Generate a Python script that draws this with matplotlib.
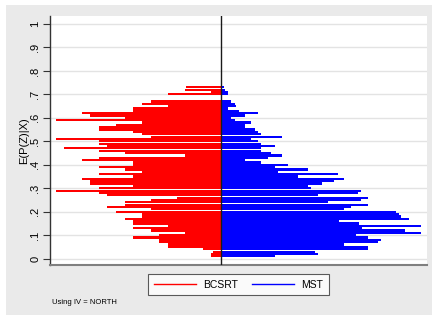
import matplotlib
matplotlib.use("Agg")
import matplotlib.pyplot as plt
from matplotlib.lines import Line2D
from matplotlib.patches import Rectangle

# bin centres of E(P(Z)|X)
bins = [0.01, 0.02, 0.03, 0.04, 0.05, 0.06, 0.07, 0.08, 0.09, 0.10,
        0.11, 0.12, 0.13, 0.14, 0.15, 0.16, 0.17, 0.18, 0.19, 0.20,
        0.21, 0.22, 0.23, 0.24, 0.25, 0.26, 0.27, 0.28, 0.29, 0.30,
        0.31, 0.32, 0.33, 0.34, 0.35, 0.36, 0.37, 0.38, 0.39, 0.40,
        0.41, 0.42, 0.43, 0.44, 0.45, 0.46, 0.47, 0.48, 0.49, 0.50,
        0.51, 0.52, 0.53, 0.54, 0.55, 0.56, 0.57, 0.58, 0.59, 0.60,
        0.61, 0.62, 0.63, 0.64, 0.65, 0.66, 0.67, 0.68, 0.69, 0.70,
        0.71, 0.72, 0.73]

# BCSRT (left, red) frequencies
bcsrt = [10, 10, 8, 18, 53, 53, 62, 62, 88, 62,
         36, 70, 88, 53, 88, 88, 96, 79, 79, 105,
         70, 114, 96, 96, 70, 44, 114, 122, 165, 122,
         88, 131, 131, 139, 88, 122, 79, 96, 122, 88,
         88, 139, 122, 36, 96, 122, 157, 114, 122, 122,
         165, 70, 79, 88, 122, 122, 105, 79, 165, 96,
         131, 139, 88, 88, 53, 79, 70, 0, 0, 53,
         10, 36, 35]

# MST (right, blue) frequencies
mst = [54, 97, 94, 147, 147, 123, 157, 160, 147, 135,
       200, 184, 141, 200, 138, 118, 188, 180, 178, 175,
       123, 130, 147, 107, 140, 147, 97, 137, 140, 90,
       87, 101, 113, 123, 77, 117, 57, 87, 54, 67,
       40, 24, 47, 61, 50, 40, 40, 54, 40, 37,
       30, 61, 40, 37, 34, 24, 24, 30, 14, 10,
       24, 37, 18, 7, 15, 14, 10, 0, 0, 7,
       7, 4, 3]

yticks = [0, 0.1, 0.2, 0.3, 0.4, 0.5, 0.6, 0.7, 0.8, 0.9, 1.0]
ytick_labels = ["0", ".1", ".2", ".3", ".4", ".5", ".6", ".7", ".8", ".9", "1"]

W, H = 432, 317
plt.rcParams["font.family"] = ["Liberation Sans", "DejaVu Sans"]

fig = plt.figure(figsize=(W / 100, H / 100), dpi=100, facecolor="white")
fig.patches.append(Rectangle((6 / W, 1 - 315 / H), 1 - 6 / W, (315 - 5) / H,
                             transform=fig.transFigure, facecolor="#eaeaea",
                             edgecolor="none", zorder=-10))

ax = fig.add_axes([50 / W, 1 - 265 / H, (427 - 50) / W, (265 - 16) / H])
ax.set_facecolor("white")

ax.barh(bins, [-v for v in bcsrt], height=0.0094, color="#ff0000", linewidth=0, zorder=2)
ax.barh(bins, mst, height=0.0094, color="#0000ff", linewidth=0, zorder=2)
ax.axvline(0, color="#1a1a1a", linewidth=1.0, zorder=3)

ax.set_xlim(-170.7, 206.3)
ax.set_ylim(-0.027, 1.034)
ax.set_xticks([])
ax.set_yticks(yticks)
ax.set_yticklabels(ytick_labels, rotation=90, va="center", fontsize=8)
ax.tick_params(axis="y", length=5, width=0.8, color="#333333", pad=2)
ax.grid(axis="y", color="#e3e3e3", linewidth=1.0, zorder=0)
ax.set_axisbelow(True)

ax.set_ylabel("E(P(Z)|X)", fontsize=8, labelpad=1)

for side in ["top", "right"]:
    ax.spines[side].set_visible(False)
ax.spines["left"].set_color("#333333")
ax.spines["left"].set_linewidth(1.0)
ax.spines["bottom"].set_color("#7f7f7f")
ax.spines["bottom"].set_linewidth(1.5)

handles = [Line2D([], [], color="#ff0000", linewidth=1.0),
           Line2D([], [], color="#0000ff", linewidth=1.0)]
leg = fig.legend(handles, ["BCSRT", "MST"], loc="center",
                 bbox_to_anchor=(238.5 / W, 1 - 284.5 / H), ncol=2,
                 fontsize=7.5, frameon=True, fancybox=False, edgecolor="#333333",
                 handlelength=4.0, handletextpad=0.7, columnspacing=1.4,
                 borderpad=0.55, borderaxespad=0)
leg.get_frame().set_linewidth(0.8)
leg.get_frame().set_facecolor("white")

fig.text(52 / W, 1 - 303 / H, "Using IV = NORTH", fontsize=5.5, va="center", ha="left")

fig.savefig("out.png", dpi=100, facecolor=fig.get_facecolor())
